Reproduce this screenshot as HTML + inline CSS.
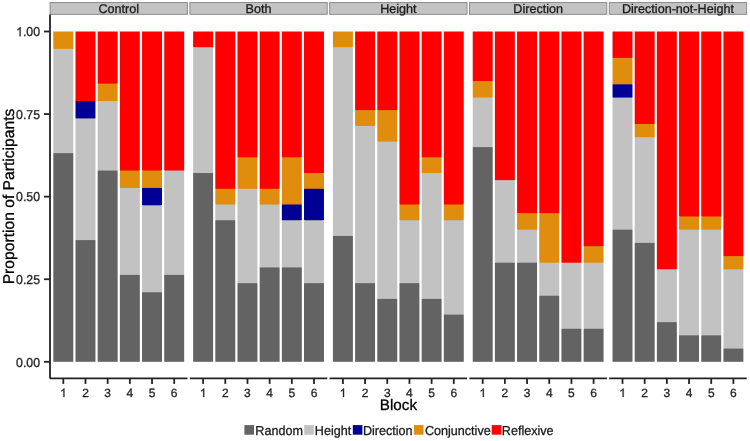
<!DOCTYPE html><html><head><meta charset="utf-8"><style>html,body{margin:0;padding:0;background:#fff;}svg{display:block;will-change:transform;}text{font-family:"Liberation Sans",sans-serif;text-rendering:geometricPrecision;}</style></head><body>
<svg width="750" height="441" viewBox="0 0 750 441">
<rect x="0" y="0" width="750" height="441" fill="#fff"/>
<rect x="50.10" y="2.55" width="137.30" height="11.8" fill="#c3c3c3" stroke="#8c8c8c" stroke-width="1"/>
<text transform="translate(118.75,12.85)" font-size="12.6" fill="#1a1a1a" stroke="#1a1a1a" stroke-width="0.3" text-anchor="middle">Control</text>
<rect x="53.33" y="31.50" width="19.96" height="17.38" fill="#e08c0c"/>
<rect x="54" y="47.78" width="19" height="2.3" fill="#e08c0c"/>
<rect x="53.33" y="48.88" width="19.96" height="104.31" fill="#c2c2c2"/>
<rect x="54" y="152.09" width="19" height="2.3" fill="#c2c2c2"/>
<rect x="53.33" y="153.19" width="19.96" height="208.61" fill="#636363"/>
<rect x="75.50" y="31.50" width="19.96" height="69.54" fill="#ff0000"/>
<rect x="76" y="99.94" width="19" height="2.3" fill="#ff0000"/>
<rect x="75.50" y="101.04" width="19.96" height="17.38" fill="#000094"/>
<rect x="76" y="117.32" width="19" height="2.3" fill="#000094"/>
<rect x="75.50" y="118.42" width="19.96" height="121.69" fill="#c2c2c2"/>
<rect x="76" y="239.01" width="19" height="2.3" fill="#c2c2c2"/>
<rect x="75.50" y="240.11" width="19.96" height="121.69" fill="#636363"/>
<rect x="97.68" y="31.50" width="19.96" height="52.15" fill="#ff0000"/>
<rect x="98" y="82.55" width="19" height="2.3" fill="#ff0000"/>
<rect x="97.68" y="83.65" width="19.96" height="17.38" fill="#e08c0c"/>
<rect x="98" y="99.94" width="19" height="2.3" fill="#e08c0c"/>
<rect x="97.68" y="101.04" width="19.96" height="69.54" fill="#c2c2c2"/>
<rect x="98" y="169.47" width="19" height="2.3" fill="#c2c2c2"/>
<rect x="97.68" y="170.57" width="19.96" height="191.23" fill="#636363"/>
<rect x="119.86" y="31.50" width="19.96" height="139.07" fill="#ff0000"/>
<rect x="120" y="169.47" width="19" height="2.3" fill="#ff0000"/>
<rect x="119.86" y="170.57" width="19.96" height="17.38" fill="#e08c0c"/>
<rect x="120" y="186.86" width="19" height="2.3" fill="#e08c0c"/>
<rect x="119.86" y="187.96" width="19.96" height="86.92" fill="#c2c2c2"/>
<rect x="120" y="273.78" width="19" height="2.3" fill="#c2c2c2"/>
<rect x="119.86" y="274.88" width="19.96" height="86.92" fill="#636363"/>
<rect x="142.04" y="31.50" width="19.96" height="139.07" fill="#ff0000"/>
<rect x="143" y="169.47" width="18" height="2.3" fill="#ff0000"/>
<rect x="142.04" y="170.57" width="19.96" height="17.38" fill="#e08c0c"/>
<rect x="143" y="186.86" width="18" height="2.3" fill="#e08c0c"/>
<rect x="142.04" y="187.96" width="19.96" height="17.38" fill="#000094"/>
<rect x="143" y="204.24" width="18" height="2.3" fill="#000094"/>
<rect x="142.04" y="205.34" width="19.96" height="86.92" fill="#c2c2c2"/>
<rect x="143" y="291.16" width="18" height="2.3" fill="#c2c2c2"/>
<rect x="142.04" y="292.26" width="19.96" height="69.54" fill="#636363"/>
<rect x="164.21" y="31.50" width="19.96" height="139.07" fill="#ff0000"/>
<rect x="165" y="169.47" width="19" height="2.3" fill="#ff0000"/>
<rect x="164.21" y="170.57" width="19.96" height="104.31" fill="#c2c2c2"/>
<rect x="165" y="273.78" width="19" height="2.3" fill="#c2c2c2"/>
<rect x="164.21" y="274.88" width="19.96" height="86.92" fill="#636363"/>
<line x1="50.00" y1="378.40" x2="187.50" y2="378.40" stroke="#222222" stroke-width="1.8"/>
<line x1="63.31" y1="378.40" x2="63.31" y2="383.90" stroke="#222222" stroke-width="1.8"/>
<path d="M64.44,397.00 L63.39,397.00 L63.39,390.28 C63.01,390.64 62.38,391.01 61.76,391.37 Q61.49,391.47 61.27,391.55 L61.27,390.53 C62.16,390.12 62.82,389.52 63.48,388.93 Q63.63,388.65 63.76,388.41 L64.44,388.41 Z" fill="#262626" stroke="#262626" stroke-width="0.3" stroke-linejoin="round"/>
<line x1="85.48" y1="378.40" x2="85.48" y2="383.90" stroke="#222222" stroke-width="1.8"/>
<text transform="translate(85.48,397.00)" font-size="12" fill="#262626" stroke="#262626" stroke-width="0.3" text-anchor="middle">2</text>
<line x1="107.66" y1="378.40" x2="107.66" y2="383.90" stroke="#222222" stroke-width="1.8"/>
<text transform="translate(107.66,397.00)" font-size="12" fill="#262626" stroke="#262626" stroke-width="0.3" text-anchor="middle">3</text>
<line x1="129.84" y1="378.40" x2="129.84" y2="383.90" stroke="#222222" stroke-width="1.8"/>
<text transform="translate(129.84,397.00)" font-size="12" fill="#262626" stroke="#262626" stroke-width="0.3" text-anchor="middle">4</text>
<line x1="152.02" y1="378.40" x2="152.02" y2="383.90" stroke="#222222" stroke-width="1.8"/>
<text transform="translate(152.02,397.00)" font-size="12" fill="#262626" stroke="#262626" stroke-width="0.3" text-anchor="middle">5</text>
<line x1="174.19" y1="378.40" x2="174.19" y2="383.90" stroke="#222222" stroke-width="1.8"/>
<text transform="translate(174.19,397.00)" font-size="12" fill="#262626" stroke="#262626" stroke-width="0.3" text-anchor="middle">6</text>
<rect x="189.90" y="2.55" width="137.30" height="11.8" fill="#c3c3c3" stroke="#8c8c8c" stroke-width="1"/>
<text transform="translate(258.55,12.85)" font-size="12.6" fill="#1a1a1a" stroke="#1a1a1a" stroke-width="0.3" text-anchor="middle">Both</text>
<rect x="193.13" y="31.50" width="19.96" height="15.73" fill="#ff0000"/>
<rect x="194" y="46.13" width="19" height="2.3" fill="#ff0000"/>
<rect x="193.13" y="47.23" width="19.96" height="125.83" fill="#c2c2c2"/>
<rect x="194" y="171.96" width="19" height="2.3" fill="#c2c2c2"/>
<rect x="193.13" y="173.06" width="19.96" height="188.74" fill="#636363"/>
<rect x="215.30" y="31.50" width="19.96" height="157.29" fill="#ff0000"/>
<rect x="216" y="187.69" width="19" height="2.3" fill="#ff0000"/>
<rect x="215.30" y="188.79" width="19.96" height="15.73" fill="#e08c0c"/>
<rect x="216" y="203.41" width="19" height="2.3" fill="#e08c0c"/>
<rect x="215.30" y="204.51" width="19.96" height="15.73" fill="#c2c2c2"/>
<rect x="216" y="219.14" width="19" height="2.3" fill="#c2c2c2"/>
<rect x="215.30" y="220.24" width="19.96" height="141.56" fill="#636363"/>
<rect x="237.48" y="31.50" width="19.96" height="125.83" fill="#ff0000"/>
<rect x="238" y="156.23" width="19" height="2.3" fill="#ff0000"/>
<rect x="237.48" y="157.33" width="19.96" height="31.46" fill="#e08c0c"/>
<rect x="238" y="187.69" width="19" height="2.3" fill="#e08c0c"/>
<rect x="237.48" y="188.79" width="19.96" height="94.37" fill="#c2c2c2"/>
<rect x="238" y="282.06" width="19" height="2.3" fill="#c2c2c2"/>
<rect x="237.48" y="283.16" width="19.96" height="78.64" fill="#636363"/>
<rect x="259.66" y="31.50" width="19.96" height="157.29" fill="#ff0000"/>
<rect x="260" y="187.69" width="19" height="2.3" fill="#ff0000"/>
<rect x="259.66" y="188.79" width="19.96" height="15.73" fill="#e08c0c"/>
<rect x="260" y="203.41" width="19" height="2.3" fill="#e08c0c"/>
<rect x="259.66" y="204.51" width="19.96" height="62.91" fill="#c2c2c2"/>
<rect x="260" y="266.33" width="19" height="2.3" fill="#c2c2c2"/>
<rect x="259.66" y="267.43" width="19.96" height="94.37" fill="#636363"/>
<rect x="281.84" y="31.50" width="19.96" height="125.83" fill="#ff0000"/>
<rect x="282" y="156.23" width="19" height="2.3" fill="#ff0000"/>
<rect x="281.84" y="157.33" width="19.96" height="47.19" fill="#e08c0c"/>
<rect x="282" y="203.41" width="19" height="2.3" fill="#e08c0c"/>
<rect x="281.84" y="204.51" width="19.96" height="15.73" fill="#000094"/>
<rect x="282" y="219.14" width="19" height="2.3" fill="#000094"/>
<rect x="281.84" y="220.24" width="19.96" height="47.19" fill="#c2c2c2"/>
<rect x="282" y="266.33" width="19" height="2.3" fill="#c2c2c2"/>
<rect x="281.84" y="267.43" width="19.96" height="94.37" fill="#636363"/>
<rect x="304.01" y="31.50" width="19.96" height="141.56" fill="#ff0000"/>
<rect x="305" y="171.96" width="18" height="2.3" fill="#ff0000"/>
<rect x="304.01" y="173.06" width="19.96" height="15.73" fill="#e08c0c"/>
<rect x="305" y="187.69" width="18" height="2.3" fill="#e08c0c"/>
<rect x="304.01" y="188.79" width="19.96" height="31.46" fill="#000094"/>
<rect x="305" y="219.14" width="18" height="2.3" fill="#000094"/>
<rect x="304.01" y="220.24" width="19.96" height="62.91" fill="#c2c2c2"/>
<rect x="305" y="282.06" width="18" height="2.3" fill="#c2c2c2"/>
<rect x="304.01" y="283.16" width="19.96" height="78.64" fill="#636363"/>
<line x1="189.80" y1="378.40" x2="327.30" y2="378.40" stroke="#222222" stroke-width="1.8"/>
<line x1="203.11" y1="378.40" x2="203.11" y2="383.90" stroke="#222222" stroke-width="1.8"/>
<path d="M204.24,397.00 L203.19,397.00 L203.19,390.28 C202.81,390.64 202.18,391.01 201.56,391.37 Q201.29,391.47 201.07,391.55 L201.07,390.53 C201.96,390.12 202.62,389.52 203.28,388.93 Q203.43,388.65 203.56,388.41 L204.24,388.41 Z" fill="#262626" stroke="#262626" stroke-width="0.3" stroke-linejoin="round"/>
<line x1="225.28" y1="378.40" x2="225.28" y2="383.90" stroke="#222222" stroke-width="1.8"/>
<text transform="translate(225.28,397.00)" font-size="12" fill="#262626" stroke="#262626" stroke-width="0.3" text-anchor="middle">2</text>
<line x1="247.46" y1="378.40" x2="247.46" y2="383.90" stroke="#222222" stroke-width="1.8"/>
<text transform="translate(247.46,397.00)" font-size="12" fill="#262626" stroke="#262626" stroke-width="0.3" text-anchor="middle">3</text>
<line x1="269.64" y1="378.40" x2="269.64" y2="383.90" stroke="#222222" stroke-width="1.8"/>
<text transform="translate(269.64,397.00)" font-size="12" fill="#262626" stroke="#262626" stroke-width="0.3" text-anchor="middle">4</text>
<line x1="291.82" y1="378.40" x2="291.82" y2="383.90" stroke="#222222" stroke-width="1.8"/>
<text transform="translate(291.82,397.00)" font-size="12" fill="#262626" stroke="#262626" stroke-width="0.3" text-anchor="middle">5</text>
<line x1="313.99" y1="378.40" x2="313.99" y2="383.90" stroke="#222222" stroke-width="1.8"/>
<text transform="translate(313.99,397.00)" font-size="12" fill="#262626" stroke="#262626" stroke-width="0.3" text-anchor="middle">6</text>
<rect x="329.70" y="2.55" width="137.30" height="11.8" fill="#c3c3c3" stroke="#8c8c8c" stroke-width="1"/>
<text transform="translate(398.35,12.85)" font-size="12.6" fill="#1a1a1a" stroke="#1a1a1a" stroke-width="0.3" text-anchor="middle">Height</text>
<rect x="332.93" y="31.50" width="19.96" height="15.73" fill="#e08c0c"/>
<rect x="333" y="46.13" width="19" height="2.3" fill="#e08c0c"/>
<rect x="332.93" y="47.23" width="19.96" height="188.74" fill="#c2c2c2"/>
<rect x="333" y="234.87" width="19" height="2.3" fill="#c2c2c2"/>
<rect x="332.93" y="235.97" width="19.96" height="125.83" fill="#636363"/>
<rect x="355.10" y="31.50" width="19.96" height="78.64" fill="#ff0000"/>
<rect x="356" y="109.04" width="19" height="2.3" fill="#ff0000"/>
<rect x="355.10" y="110.14" width="19.96" height="15.73" fill="#e08c0c"/>
<rect x="356" y="124.77" width="19" height="2.3" fill="#e08c0c"/>
<rect x="355.10" y="125.87" width="19.96" height="157.29" fill="#c2c2c2"/>
<rect x="356" y="282.06" width="19" height="2.3" fill="#c2c2c2"/>
<rect x="355.10" y="283.16" width="19.96" height="78.64" fill="#636363"/>
<rect x="377.28" y="31.50" width="19.96" height="78.64" fill="#ff0000"/>
<rect x="378" y="109.04" width="19" height="2.3" fill="#ff0000"/>
<rect x="377.28" y="110.14" width="19.96" height="31.46" fill="#e08c0c"/>
<rect x="378" y="140.50" width="19" height="2.3" fill="#e08c0c"/>
<rect x="377.28" y="141.60" width="19.96" height="157.29" fill="#c2c2c2"/>
<rect x="378" y="297.79" width="19" height="2.3" fill="#c2c2c2"/>
<rect x="377.28" y="298.89" width="19.96" height="62.91" fill="#636363"/>
<rect x="399.46" y="31.50" width="19.96" height="173.01" fill="#ff0000"/>
<rect x="400" y="203.41" width="19" height="2.3" fill="#ff0000"/>
<rect x="399.46" y="204.51" width="19.96" height="15.73" fill="#e08c0c"/>
<rect x="400" y="219.14" width="19" height="2.3" fill="#e08c0c"/>
<rect x="399.46" y="220.24" width="19.96" height="62.91" fill="#c2c2c2"/>
<rect x="400" y="282.06" width="19" height="2.3" fill="#c2c2c2"/>
<rect x="399.46" y="283.16" width="19.96" height="78.64" fill="#636363"/>
<rect x="421.64" y="31.50" width="19.96" height="125.83" fill="#ff0000"/>
<rect x="422" y="156.23" width="19" height="2.3" fill="#ff0000"/>
<rect x="421.64" y="157.33" width="19.96" height="15.73" fill="#e08c0c"/>
<rect x="422" y="171.96" width="19" height="2.3" fill="#e08c0c"/>
<rect x="421.64" y="173.06" width="19.96" height="125.83" fill="#c2c2c2"/>
<rect x="422" y="297.79" width="19" height="2.3" fill="#c2c2c2"/>
<rect x="421.64" y="298.89" width="19.96" height="62.91" fill="#636363"/>
<rect x="443.81" y="31.50" width="19.96" height="173.01" fill="#ff0000"/>
<rect x="444" y="203.41" width="19" height="2.3" fill="#ff0000"/>
<rect x="443.81" y="204.51" width="19.96" height="15.73" fill="#e08c0c"/>
<rect x="444" y="219.14" width="19" height="2.3" fill="#e08c0c"/>
<rect x="443.81" y="220.24" width="19.96" height="94.37" fill="#c2c2c2"/>
<rect x="444" y="313.51" width="19" height="2.3" fill="#c2c2c2"/>
<rect x="443.81" y="314.61" width="19.96" height="47.19" fill="#636363"/>
<line x1="329.60" y1="378.40" x2="467.10" y2="378.40" stroke="#222222" stroke-width="1.8"/>
<line x1="342.91" y1="378.40" x2="342.91" y2="383.90" stroke="#222222" stroke-width="1.8"/>
<path d="M344.04,397.00 L342.99,397.00 L342.99,390.28 C342.61,390.64 341.98,391.01 341.36,391.37 Q341.09,391.47 340.87,391.55 L340.87,390.53 C341.76,390.12 342.42,389.52 343.08,388.93 Q343.23,388.65 343.36,388.41 L344.04,388.41 Z" fill="#262626" stroke="#262626" stroke-width="0.3" stroke-linejoin="round"/>
<line x1="365.08" y1="378.40" x2="365.08" y2="383.90" stroke="#222222" stroke-width="1.8"/>
<text transform="translate(365.08,397.00)" font-size="12" fill="#262626" stroke="#262626" stroke-width="0.3" text-anchor="middle">2</text>
<line x1="387.26" y1="378.40" x2="387.26" y2="383.90" stroke="#222222" stroke-width="1.8"/>
<text transform="translate(387.26,397.00)" font-size="12" fill="#262626" stroke="#262626" stroke-width="0.3" text-anchor="middle">3</text>
<line x1="409.44" y1="378.40" x2="409.44" y2="383.90" stroke="#222222" stroke-width="1.8"/>
<text transform="translate(409.44,397.00)" font-size="12" fill="#262626" stroke="#262626" stroke-width="0.3" text-anchor="middle">4</text>
<line x1="431.62" y1="378.40" x2="431.62" y2="383.90" stroke="#222222" stroke-width="1.8"/>
<text transform="translate(431.62,397.00)" font-size="12" fill="#262626" stroke="#262626" stroke-width="0.3" text-anchor="middle">5</text>
<line x1="453.79" y1="378.40" x2="453.79" y2="383.90" stroke="#222222" stroke-width="1.8"/>
<text transform="translate(453.79,397.00)" font-size="12" fill="#262626" stroke="#262626" stroke-width="0.3" text-anchor="middle">6</text>
<rect x="469.50" y="2.55" width="137.30" height="11.8" fill="#c3c3c3" stroke="#8c8c8c" stroke-width="1"/>
<text transform="translate(538.15,12.85)" font-size="12.6" fill="#1a1a1a" stroke="#1a1a1a" stroke-width="0.3" text-anchor="middle">Direction</text>
<rect x="472.73" y="31.50" width="19.96" height="49.55" fill="#ff0000"/>
<rect x="473" y="79.95" width="19" height="2.3" fill="#ff0000"/>
<rect x="472.73" y="81.05" width="19.96" height="16.51" fill="#e08c0c"/>
<rect x="473" y="96.46" width="19" height="2.3" fill="#e08c0c"/>
<rect x="472.73" y="97.56" width="19.96" height="49.54" fill="#c2c2c2"/>
<rect x="473" y="146.00" width="19" height="2.3" fill="#c2c2c2"/>
<rect x="472.73" y="147.10" width="19.96" height="214.70" fill="#636363"/>
<rect x="494.90" y="31.50" width="19.96" height="148.63" fill="#ff0000"/>
<rect x="495" y="179.03" width="19" height="2.3" fill="#ff0000"/>
<rect x="494.90" y="180.13" width="19.96" height="82.58" fill="#c2c2c2"/>
<rect x="495" y="261.61" width="19" height="2.3" fill="#c2c2c2"/>
<rect x="494.90" y="262.71" width="19.96" height="99.09" fill="#636363"/>
<rect x="517.08" y="31.50" width="19.96" height="181.66" fill="#ff0000"/>
<rect x="518" y="212.06" width="19" height="2.3" fill="#ff0000"/>
<rect x="517.08" y="213.16" width="19.96" height="16.52" fill="#e08c0c"/>
<rect x="518" y="228.58" width="19" height="2.3" fill="#e08c0c"/>
<rect x="517.08" y="229.68" width="19.96" height="33.03" fill="#c2c2c2"/>
<rect x="518" y="261.61" width="19" height="2.3" fill="#c2c2c2"/>
<rect x="517.08" y="262.71" width="19.96" height="99.09" fill="#636363"/>
<rect x="539.26" y="31.50" width="19.96" height="181.66" fill="#ff0000"/>
<rect x="540" y="212.06" width="19" height="2.3" fill="#ff0000"/>
<rect x="539.26" y="213.16" width="19.96" height="49.55" fill="#e08c0c"/>
<rect x="540" y="261.61" width="19" height="2.3" fill="#e08c0c"/>
<rect x="539.26" y="262.71" width="19.96" height="33.03" fill="#c2c2c2"/>
<rect x="540" y="294.64" width="19" height="2.3" fill="#c2c2c2"/>
<rect x="539.26" y="295.74" width="19.96" height="66.06" fill="#636363"/>
<rect x="561.44" y="31.50" width="19.96" height="231.21" fill="#ff0000"/>
<rect x="562" y="261.61" width="19" height="2.3" fill="#ff0000"/>
<rect x="561.44" y="262.71" width="19.96" height="66.06" fill="#c2c2c2"/>
<rect x="562" y="327.67" width="19" height="2.3" fill="#c2c2c2"/>
<rect x="561.44" y="328.77" width="19.96" height="33.03" fill="#636363"/>
<rect x="583.61" y="31.50" width="19.96" height="214.70" fill="#ff0000"/>
<rect x="584" y="245.10" width="19" height="2.3" fill="#ff0000"/>
<rect x="583.61" y="246.20" width="19.96" height="16.52" fill="#e08c0c"/>
<rect x="584" y="261.61" width="19" height="2.3" fill="#e08c0c"/>
<rect x="583.61" y="262.71" width="19.96" height="66.06" fill="#c2c2c2"/>
<rect x="584" y="327.67" width="19" height="2.3" fill="#c2c2c2"/>
<rect x="583.61" y="328.77" width="19.96" height="33.03" fill="#636363"/>
<line x1="469.40" y1="378.40" x2="606.90" y2="378.40" stroke="#222222" stroke-width="1.8"/>
<line x1="482.71" y1="378.40" x2="482.71" y2="383.90" stroke="#222222" stroke-width="1.8"/>
<path d="M483.84,397.00 L482.79,397.00 L482.79,390.28 C482.41,390.64 481.78,391.01 481.16,391.37 Q480.89,391.47 480.67,391.55 L480.67,390.53 C481.56,390.12 482.22,389.52 482.88,388.93 Q483.03,388.65 483.16,388.41 L483.84,388.41 Z" fill="#262626" stroke="#262626" stroke-width="0.3" stroke-linejoin="round"/>
<line x1="504.88" y1="378.40" x2="504.88" y2="383.90" stroke="#222222" stroke-width="1.8"/>
<text transform="translate(504.88,397.00)" font-size="12" fill="#262626" stroke="#262626" stroke-width="0.3" text-anchor="middle">2</text>
<line x1="527.06" y1="378.40" x2="527.06" y2="383.90" stroke="#222222" stroke-width="1.8"/>
<text transform="translate(527.06,397.00)" font-size="12" fill="#262626" stroke="#262626" stroke-width="0.3" text-anchor="middle">3</text>
<line x1="549.24" y1="378.40" x2="549.24" y2="383.90" stroke="#222222" stroke-width="1.8"/>
<text transform="translate(549.24,397.00)" font-size="12" fill="#262626" stroke="#262626" stroke-width="0.3" text-anchor="middle">4</text>
<line x1="571.42" y1="378.40" x2="571.42" y2="383.90" stroke="#222222" stroke-width="1.8"/>
<text transform="translate(571.42,397.00)" font-size="12" fill="#262626" stroke="#262626" stroke-width="0.3" text-anchor="middle">5</text>
<line x1="593.59" y1="378.40" x2="593.59" y2="383.90" stroke="#222222" stroke-width="1.8"/>
<text transform="translate(593.59,397.00)" font-size="12" fill="#262626" stroke="#262626" stroke-width="0.3" text-anchor="middle">6</text>
<rect x="609.30" y="2.55" width="137.30" height="11.8" fill="#c3c3c3" stroke="#8c8c8c" stroke-width="1"/>
<text transform="translate(677.95,12.85)" font-size="12.6" fill="#1a1a1a" stroke="#1a1a1a" stroke-width="0.3" text-anchor="middle">Direction-not-Height</text>
<rect x="612.53" y="31.50" width="19.96" height="26.42" fill="#ff0000"/>
<rect x="613" y="56.82" width="19" height="2.3" fill="#ff0000"/>
<rect x="612.53" y="57.92" width="19.96" height="26.42" fill="#e08c0c"/>
<rect x="613" y="83.25" width="19" height="2.3" fill="#e08c0c"/>
<rect x="612.53" y="84.35" width="19.96" height="13.21" fill="#000094"/>
<rect x="613" y="96.46" width="19" height="2.3" fill="#000094"/>
<rect x="612.53" y="97.56" width="19.96" height="132.12" fill="#c2c2c2"/>
<rect x="613" y="228.58" width="19" height="2.3" fill="#c2c2c2"/>
<rect x="612.53" y="229.68" width="19.96" height="132.12" fill="#636363"/>
<rect x="634.70" y="31.50" width="19.96" height="92.48" fill="#ff0000"/>
<rect x="635" y="122.88" width="19" height="2.3" fill="#ff0000"/>
<rect x="634.70" y="123.98" width="19.96" height="13.21" fill="#e08c0c"/>
<rect x="635" y="136.10" width="19" height="2.3" fill="#e08c0c"/>
<rect x="634.70" y="137.20" width="19.96" height="105.70" fill="#c2c2c2"/>
<rect x="635" y="241.79" width="19" height="2.3" fill="#c2c2c2"/>
<rect x="634.70" y="242.89" width="19.96" height="118.91" fill="#636363"/>
<rect x="656.88" y="31.50" width="19.96" height="237.82" fill="#ff0000"/>
<rect x="657" y="268.22" width="19" height="2.3" fill="#ff0000"/>
<rect x="656.88" y="269.32" width="19.96" height="52.85" fill="#c2c2c2"/>
<rect x="657" y="321.06" width="19" height="2.3" fill="#c2c2c2"/>
<rect x="656.88" y="322.16" width="19.96" height="39.64" fill="#636363"/>
<rect x="679.06" y="31.50" width="19.96" height="184.97" fill="#ff0000"/>
<rect x="680" y="215.37" width="19" height="2.3" fill="#ff0000"/>
<rect x="679.06" y="216.47" width="19.96" height="13.21" fill="#e08c0c"/>
<rect x="680" y="228.58" width="19" height="2.3" fill="#e08c0c"/>
<rect x="679.06" y="229.68" width="19.96" height="105.70" fill="#c2c2c2"/>
<rect x="680" y="334.28" width="19" height="2.3" fill="#c2c2c2"/>
<rect x="679.06" y="335.38" width="19.96" height="26.42" fill="#636363"/>
<rect x="701.24" y="31.50" width="19.96" height="184.97" fill="#ff0000"/>
<rect x="702" y="215.37" width="19" height="2.3" fill="#ff0000"/>
<rect x="701.24" y="216.47" width="19.96" height="13.21" fill="#e08c0c"/>
<rect x="702" y="228.58" width="19" height="2.3" fill="#e08c0c"/>
<rect x="701.24" y="229.68" width="19.96" height="105.70" fill="#c2c2c2"/>
<rect x="702" y="334.28" width="19" height="2.3" fill="#c2c2c2"/>
<rect x="701.24" y="335.38" width="19.96" height="26.42" fill="#636363"/>
<rect x="723.41" y="31.50" width="19.96" height="224.60" fill="#ff0000"/>
<rect x="724" y="255.00" width="19" height="2.3" fill="#ff0000"/>
<rect x="723.41" y="256.10" width="19.96" height="13.21" fill="#e08c0c"/>
<rect x="724" y="268.22" width="19" height="2.3" fill="#e08c0c"/>
<rect x="723.41" y="269.32" width="19.96" height="79.27" fill="#c2c2c2"/>
<rect x="724" y="347.49" width="19" height="2.3" fill="#c2c2c2"/>
<rect x="723.41" y="348.59" width="19.96" height="13.21" fill="#636363"/>
<line x1="609.20" y1="378.40" x2="746.70" y2="378.40" stroke="#222222" stroke-width="1.8"/>
<line x1="622.51" y1="378.40" x2="622.51" y2="383.90" stroke="#222222" stroke-width="1.8"/>
<path d="M623.64,397.00 L622.59,397.00 L622.59,390.28 C622.21,390.64 621.58,391.01 620.96,391.37 Q620.69,391.47 620.47,391.55 L620.47,390.53 C621.36,390.12 622.02,389.52 622.68,388.93 Q622.83,388.65 622.96,388.41 L623.64,388.41 Z" fill="#262626" stroke="#262626" stroke-width="0.3" stroke-linejoin="round"/>
<line x1="644.68" y1="378.40" x2="644.68" y2="383.90" stroke="#222222" stroke-width="1.8"/>
<text transform="translate(644.68,397.00)" font-size="12" fill="#262626" stroke="#262626" stroke-width="0.3" text-anchor="middle">2</text>
<line x1="666.86" y1="378.40" x2="666.86" y2="383.90" stroke="#222222" stroke-width="1.8"/>
<text transform="translate(666.86,397.00)" font-size="12" fill="#262626" stroke="#262626" stroke-width="0.3" text-anchor="middle">3</text>
<line x1="689.04" y1="378.40" x2="689.04" y2="383.90" stroke="#222222" stroke-width="1.8"/>
<text transform="translate(689.04,397.00)" font-size="12" fill="#262626" stroke="#262626" stroke-width="0.3" text-anchor="middle">4</text>
<line x1="711.22" y1="378.40" x2="711.22" y2="383.90" stroke="#222222" stroke-width="1.8"/>
<text transform="translate(711.22,397.00)" font-size="12" fill="#262626" stroke="#262626" stroke-width="0.3" text-anchor="middle">5</text>
<line x1="733.39" y1="378.40" x2="733.39" y2="383.90" stroke="#222222" stroke-width="1.8"/>
<text transform="translate(733.39,397.00)" font-size="12" fill="#262626" stroke="#262626" stroke-width="0.3" text-anchor="middle">6</text>
<line x1="50.00" y1="14.60" x2="50.00" y2="378.40" stroke="#222222" stroke-width="1.8"/>
<line x1="44.00" y1="361.80" x2="50.00" y2="361.80" stroke="#222222" stroke-width="1.8"/>
<text transform="translate(40.00,366.55) scale(1,1.05)" font-size="12.3" fill="#262626" stroke="#262626" stroke-width="0.3" text-anchor="end">0.00</text>
<line x1="44.00" y1="279.23" x2="50.00" y2="279.23" stroke="#222222" stroke-width="1.8"/>
<text transform="translate(40.00,283.98) scale(1,1.05)" font-size="12.3" fill="#262626" stroke="#262626" stroke-width="0.3" text-anchor="end">0.25</text>
<line x1="44.00" y1="196.65" x2="50.00" y2="196.65" stroke="#222222" stroke-width="1.8"/>
<text transform="translate(40.00,201.40) scale(1,1.05)" font-size="12.3" fill="#262626" stroke="#262626" stroke-width="0.3" text-anchor="end">0.50</text>
<line x1="44.00" y1="114.07" x2="50.00" y2="114.07" stroke="#222222" stroke-width="1.8"/>
<text transform="translate(40.00,118.82) scale(1,1.05)" font-size="12.3" fill="#262626" stroke="#262626" stroke-width="0.3" text-anchor="end">0.75</text>
<line x1="44.00" y1="31.50" x2="50.00" y2="31.50" stroke="#222222" stroke-width="1.8"/>
<text transform="translate(40.00,36.25) scale(1,1.05)" font-size="12.3" fill="#262626" stroke="#262626" stroke-width="0.3" text-anchor="end">.00</text>
<path d="M20.65,36.25 L19.57,36.25 L19.57,29.02 C19.18,29.41 18.54,29.80 17.90,30.19 Q17.63,30.30 17.40,30.39 L17.40,29.29 C18.30,28.84 18.98,28.20 19.66,27.57 Q19.82,27.26 19.94,27.01 L20.65,27.01 Z" fill="#262626" stroke="#262626" stroke-width="0.3" stroke-linejoin="round"/>
<text transform="translate(398.40,410.20)" font-size="15.2" fill="#000" stroke="#000" stroke-width="0.3" text-anchor="middle">Block</text>
<text transform="translate(13.80,196.50) rotate(-90)" font-size="15.65" fill="#000" stroke="#000" stroke-width="0.3" text-anchor="middle">Proportion of Participants</text>
<rect x="244.40" y="425.1" width="9.6" height="9.6" fill="#636363"/>
<text transform="translate(255.30,434.75) scale(1,1.03)" font-size="12.6" fill="#1a1a1a" stroke="#1a1a1a" stroke-width="0.3" text-anchor="start">Random</text>
<rect x="304.20" y="425.1" width="9.6" height="9.6" fill="#c2c2c2"/>
<text transform="translate(314.80,434.75) scale(1,1.03)" font-size="12.6" fill="#1a1a1a" stroke="#1a1a1a" stroke-width="0.3" text-anchor="start">Height</text>
<rect x="352.80" y="425.1" width="9.6" height="9.6" fill="#000094"/>
<text transform="translate(362.90,434.75) scale(1,1.03)" font-size="12.6" fill="#1a1a1a" stroke="#1a1a1a" stroke-width="0.3" text-anchor="start">Direction</text>
<rect x="413.90" y="425.1" width="9.6" height="9.6" fill="#e08c0c"/>
<text transform="translate(424.90,434.75) scale(1,1.03)" font-size="12.6" fill="#1a1a1a" stroke="#1a1a1a" stroke-width="0.3" text-anchor="start">Conjunctive</text>
<rect x="491.70" y="425.1" width="9.6" height="9.6" fill="#ff0000"/>
<text transform="translate(501.80,434.75) scale(1,1.03)" font-size="12.6" fill="#1a1a1a" stroke="#1a1a1a" stroke-width="0.3" text-anchor="start">Reflexive</text>
</svg></body></html>
